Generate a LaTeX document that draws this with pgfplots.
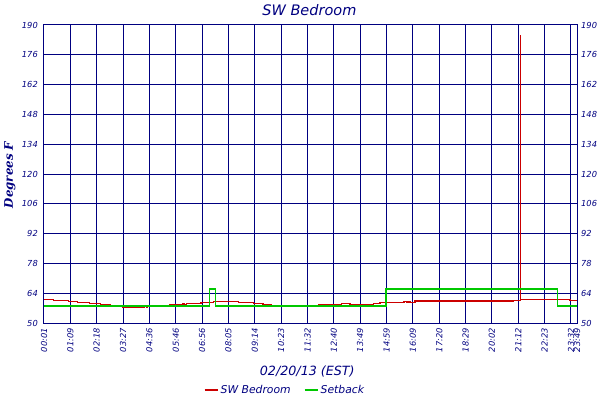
\documentclass[border=0pt]{standalone}
\usepackage{fontspec}
\setmainfont{DejaVu Sans}
\newfontfamily\labfont{DejaVu Serif}
\usepackage{pgfplots}
\pgfplotsset{compat=1.18}
\definecolor{navy}{RGB}{0,0,128}
\definecolor{sred}{RGB}{204,0,0}
\definecolor{sgreen}{RGB}{0,200,0}
\begin{document}
\begin{tikzpicture}[x=1pt,y=1pt]
\useasboundingbox (0,0) rectangle (600,400);
\begin{axis}[
  at={(44pt,77pt)}, anchor=south west,
  scale only axis, width=533pt, height=298pt,
  xmin=0, xmax=20.228, ymin=50, ymax=190,
  xtick={0,1,2,3,4,5,6,7,8,9,10,11,12,13,14,15,16,17,18,19,20,20.228},
  xticklabels={00:01,01:09,02:18,03:27,04:36,05:46,06:56,08:05,09:14,10:23,11:32,12:40,13:49,14:59,16:09,17:20,18:29,20:02,21:12,22:23,23:32,23:49},
  ytick={50,64,78,92,106,120,134,148,162,176,190},
  yticklabels={50,64,78,92,106,120,134,148,162,176,190},
  /pgf/number format/assume math mode=true,
  grid=major,
  grid style={draw=navy, line width=1pt},
  major grid style={draw=navy, line width=1pt},
  axis line style={draw=navy, line width=1pt},
  major tick length=0pt,
  ticklabel style={font=\fontsize{8.3}{9}\selectfont\itshape, text=navy},
  xticklabel style={yshift=-5pt, rotate=90, anchor=east, inner sep=0pt},
  yticklabel style={anchor=east, inner sep=0pt, xshift=-6pt},
  title={SW Bedroom},
  title style={font=\fontsize{14.5}{16}\selectfont\itshape, text=navy, at={(axis description cs:0.498,1)}, anchor=center, yshift=9pt},
  xlabel={02/20/13 (EST)},
  xlabel style={font=\fontsize{12.7}{14}\selectfont\itshape, text=navy, at={(axis description cs:0.494,0)}, anchor=center, yshift=-49pt},
  ylabel={Degrees F},
  ylabel style={font=\labfont\bfseries\itshape\fontsize{11.8}{13}\selectfont, text=navy, at={(axis description cs:0,0.497)}, anchor=center, yshift=34pt},
  unbounded coords=jump,
  legend columns=2,
  legend style={at={(0.452,-0.225)}, anchor=center, draw=none, fill=none,
    font=\fontsize{10.8}{12}\selectfont\itshape, text=navy, inner sep=0pt,
    /tikz/every even column/.append style={column sep=11pt}},
  legend image code/.code={\draw[#1,line width=2pt] (0pt,0pt) -- (13pt,0pt);},
]
\addplot[const plot, color=sred, line width=1.3pt] coordinates {
 (0,61) (0.353,60.5) (0.922,60) (1.264,59.5) (1.719,59) (2.152,58.5) (2.531,58.5)
 (2.7,nan)
 (2.960,57.5) (3.833,57.5)
 (3.86,nan)
 (3.890,57.5) (3.928,57.5)
 (4.3,nan)
 (4.744,58.5) (5.275,59) (5.313,58.5) (5.416,59) (5.958,59.5) (6.425,60) (7.374,59.5) (7.943,59) (8.311,58.5) (8.653,58.5)
 (9.5,nan)
 (10.410,58.5) (11.298,59) (11.613,58.5) (12.497,59) (12.751,59.5) (13.055,59.7) (13.662,60.2) (13.776,59.7) (13.852,60.2) (13.890,59.7) (14.080,60.3) (17.799,60.6) (18.080,185) (18.085,61) (19.962,60.5) (20.228,60.5)
};
\addlegendentry{SW Bedroom}
\addplot[const plot, color=sgreen, line width=1.3pt] coordinates {
 (0,58) (6.273,66) (6.501,58) (12.979,66) (19.495,58) (20.228,58)
};
\addlegendentry{Setback}
\end{axis}
\begin{axis}[
  at={(44pt,77pt)}, anchor=south west,
  scale only axis, width=533pt, height=298pt,
  xmin=0, xmax=20.228, ymin=50, ymax=190,
  xtick=\empty,
  ytick={50,64,78,92,106,120,134,148,162,176,190},
  yticklabels={50,64,78,92,106,120,134,148,162,176,190},
  yticklabel pos=right,
  axis line style={draw=none},
  major tick length=0pt,
  ticklabel style={font=\fontsize{8.3}{9}\selectfont\itshape, text=navy},
  yticklabel style={anchor=west, inner sep=0pt, xshift=4pt},
]
\end{axis}
\end{tikzpicture}
\end{document}
